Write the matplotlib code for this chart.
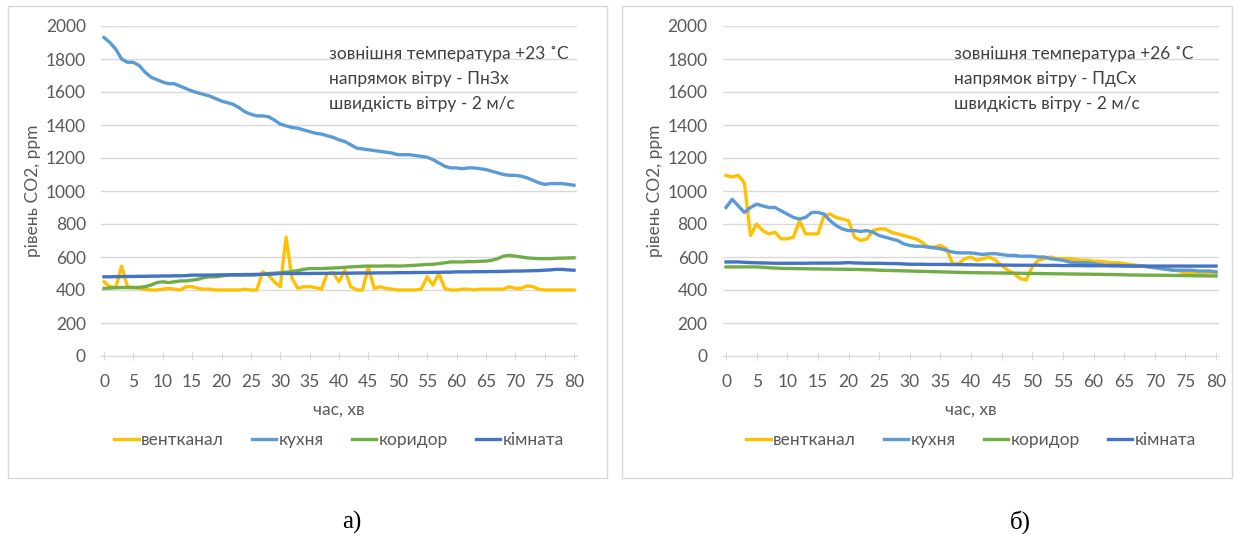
import numpy as np
import matplotlib.pyplot as plt

plt.rcParams['font.family'] = ['Lato', 'DejaVu Sans']

minutes = list(range(0, 81))
series_names = ['вентканал', 'кухня', 'коридор', 'кімната']
colors = ['#FFC000', '#5B9BD5', '#70AD47', '#4472C4']

# а) +23 C, ПнЗх
vent_a = [450, 420, 415, 545, 420, 415, 410, 405, 400, 400,
          405, 410, 405, 400, 420, 420, 410, 405, 405, 400,
          400, 400, 400, 400, 405, 400, 400, 510, 490, 450,
          420, 720, 470, 410, 420, 420, 415, 405, 500, 505,
          450, 520, 420, 400, 400, 540, 410, 420, 410, 405,
          400, 400, 400, 400, 405, 480, 430, 500, 410, 400,
          400, 405, 405, 400, 405, 405, 405, 405, 405, 420,
          410, 410, 425, 420, 405, 400, 400, 400, 400, 400, 400]
kitchen_a = [1930, 1900, 1860, 1800, 1780, 1780, 1760, 1720, 1690, 1675,
             1660, 1650, 1650, 1635, 1620, 1605, 1595, 1585, 1575, 1560,
             1545, 1535, 1525, 1505, 1480, 1465, 1455, 1455, 1450, 1430,
             1405, 1395, 1385, 1380, 1370, 1360, 1350, 1345, 1335, 1325,
             1310, 1300, 1280, 1260, 1255, 1250, 1245, 1240, 1235, 1230,
             1220, 1220, 1220, 1215, 1210, 1205, 1190, 1170, 1150, 1140,
             1140, 1135, 1140, 1140, 1135, 1130, 1120, 1110, 1100, 1095,
             1095, 1090, 1080, 1065, 1050, 1040, 1045, 1045, 1045, 1040, 1035]
corridor_a = [410, 412, 414, 415, 415, 415, 416, 420, 430, 445,
              450, 445, 450, 455, 455, 460, 465, 475, 480, 480,
              485, 490, 490, 490, 490, 490, 492, 495, 500, 502,
              505, 508, 512, 518, 525, 530, 530, 530, 532, 533,
              535, 538, 540, 542, 544, 545, 545, 545, 546, 546,
              545, 546, 548, 550, 552, 555, 556, 560, 565, 570,
              570, 570, 572, 572, 574, 575, 580, 590, 605, 610,
              605, 600, 595, 592, 590, 590, 590, 592, 593, 594, 595]
room_a = [480, 480, 481, 481, 482, 482, 483, 483, 484, 484,
          485, 485, 486, 486, 487, 490, 490, 490, 491, 491,
          492, 492, 493, 493, 494, 494, 495, 495, 496, 497,
          500, 500, 500, 500, 500, 500, 501, 501, 501, 502,
          502, 502, 502, 503, 503, 503, 503, 504, 504, 504,
          505, 505, 505, 506, 506, 506, 507, 507, 508, 508,
          510, 510, 510, 511, 511, 511, 512, 512, 513, 514,
          515, 515, 516, 517, 518, 520, 522, 525, 525, 522, 520]

# б) +26 C, ПдСх
vent_b = [1095, 1085, 1095, 1050, 730, 800, 760, 740, 750, 710,
          710, 720, 820, 740, 740, 740, 850, 860, 840, 830,
          820, 720, 700, 710, 760, 770, 770, 750, 740, 730,
          720, 710, 690, 660, 660, 670, 650, 560, 560, 590,
          600, 580, 590, 600, 580, 550, 520, 500, 470, 460,
          540, 580, 590, 600, 590, 590, 590, 585, 580, 580,
          575, 575, 570, 565, 565, 560, 555, 550, 545, 540,
          535, 530, 525, 520, 515, 500, 505, 500, 495, 505, 500]
kitchen_b = [900, 950, 910, 870, 900, 920, 910, 900, 900, 880,
             860, 840, 830, 840, 870, 870, 860, 820, 790, 770,
             760, 760, 755, 760, 750, 730, 720, 710, 700, 680,
             670, 665, 665, 660, 655, 650, 640, 630, 625, 625,
             625, 620, 615, 620, 620, 615, 610, 610, 605, 605,
             605, 600, 600, 590, 585, 580, 570, 565, 565, 565,
             560, 555, 550, 550, 550, 545, 545, 545, 545, 540,
             535, 530, 525, 520, 520, 520, 520, 515, 515, 515, 510]
corridor_b = [540, 540, 540, 540, 540, 540, 538, 535, 533, 531,
              530, 530, 529, 529, 528, 528, 527, 527, 526, 526,
              525, 525, 524, 523, 522, 520, 519, 518, 517, 516,
              515, 514, 513, 512, 511, 510, 509, 508, 507, 506,
              505, 505, 504, 504, 503, 503, 502, 502, 501, 501,
              500, 500, 499, 499, 498, 498, 497, 497, 496, 496,
              495, 495, 494, 494, 493, 492, 491, 491, 490, 490,
              490, 489, 489, 488, 488, 487, 487, 486, 486, 485, 485]
room_b = [570, 570, 570, 568, 566, 565, 564, 563, 562, 562,
          562, 562, 562, 562, 563, 563, 563, 563, 563, 564,
          566, 564, 563, 562, 562, 562, 561, 560, 560, 558,
          556, 556, 556, 555, 555, 555, 555, 554, 554, 553,
          553, 552, 552, 552, 551, 551, 551, 550, 550, 550,
          550, 550, 549, 549, 549, 548, 548, 548, 548, 547,
          547, 547, 547, 546, 546, 546, 546, 545, 545, 545,
          545, 545, 545, 545, 545, 545, 545, 545, 545, 545, 545]

panels = [
    ([vent_a, kitchen_a, corridor_a, room_a],
     ['зовнішня температура +23 ˚С', 'напрямок вітру - ПнЗх', 'швидкість вітру - 2 м/с'],
     [104, 574], 0.48, 'а)', 352),
    ([vent_b, kitchen_b, corridor_b, room_b],
     ['зовнішня температура +26 ˚С', 'напрямок вітру - ПдСх', 'швидкість вітру - 2 м/с'],
     [726, 1216], 0.465, 'б)', 1020),
]

W, H = 1239, 542
fig = plt.figure(figsize=(W / 100, H / 100), dpi=100)

# chart frames
for x0, x1 in [(8, 607), (622, 1232)]:
    fig.patches.append(plt.Rectangle((x0 / W, 1 - 478 / H), (x1 - x0) / W, 472 / H,
                                     transform=fig.transFigure, fill=False,
                                     edgecolor='#d9d9d9', lw=1))

fs = 12.5
for data, notes, (px0, px1), note_x, tag, tag_x in panels:
    # x from -0.5 to 80.5, so 0 and 80 land on px0 and px1
    step = (px1 - px0) / 80
    ax = fig.add_axes([(px0 - 0.5 * step) / W, 1 - 356 / H,
                       (px1 - px0 + step) / W, 330 / H])
    for vals, name, c in zip(data, series_names, colors):
        ax.plot(minutes, vals, color=c, lw=2.4, label=name)
    ax.set_xlim(-0.5, 80.5)
    ax.set_ylim(0, 2000)
    ax.set_yticks(range(0, 2001, 200))
    ax.set_xticks(range(0, 81, 5))
    ax.grid(axis='y', color='#d9d9d9', lw=1)
    ax.set_axisbelow(True)
    for s in ['top', 'right', 'left']:
        ax.spines[s].set_visible(False)
    ax.spines['bottom'].set_color('#d9d9d9')
    ax.tick_params(axis='y', length=0, pad=11, labelsize=fs, labelcolor='#595959')
    ax.tick_params(axis='x', direction='inout', length=6, color='#d9d9d9',
                   labelsize=fs, labelcolor='#595959', pad=10)
    ax.set_xlabel('час, хв', fontsize=fs, color='#595959', labelpad=8)
    ax.set_ylabel('рівень CO2, ppm', fontsize=fs, color='#595959', labelpad=3)
    for i, t in enumerate(notes):
        ax.text(note_x, 0.915 - i * 0.076, t, transform=ax.transAxes,
                fontsize=fs, color='#404040', va='center')
    ax.legend(loc='center', bbox_to_anchor=(0.5, -0.255), ncol=4, frameon=False,
              fontsize=fs, handlelength=1.4, handletextpad=0.15, columnspacing=1.6,
              labelcolor='#595959')
    fig.text(tag_x / W, 1 - 522 / H, tag, fontsize=18, family='Liberation Serif',
             ha='center', va='center')

fig.savefig('out.png', dpi=100)
